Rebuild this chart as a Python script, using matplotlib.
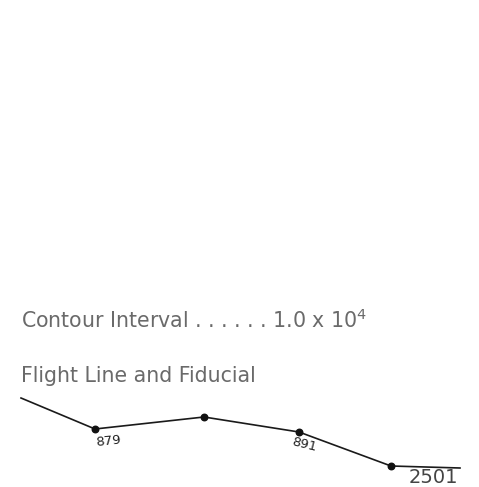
import matplotlib.pyplot as plt

# flight line vertices (picture pixels, y down)
line_x = [21, 95, 204, 299, 391, 460]
line_y = [398, 429, 417, 432, 466, 468]
# fiducial dots
fid_x = [95, 204, 299, 391]
fid_y = [429, 417, 432, 466]
fid_labels = ["879", "", "891", ""]
fid_rot = [6, 0, -14, 0]

contour_text = "Contour Interval . . . . . . 1.0 x 10$^{4}$"
flight_text = "Flight Line and Fiducial"
line_number = "2501"

plt.rcParams["mathtext.fontset"] = "dejavusans"

fig = plt.figure(figsize=(4.79, 4.87), dpi=100)
ax = fig.add_axes([0, 0, 1, 1])
ax.set_xlim(0, 479)
ax.set_ylim(487, 0)
ax.axis("off")

grey = "#6a6a6a"
ax.text(21, 320, contour_text, fontsize=14.8, color=grey, family="DejaVu Sans",
        va="center", ha="left")
ax.text(21, 376, flight_text, fontsize=14.8, color=grey, family="DejaVu Sans",
        va="center", ha="left")

ax.plot(line_x, line_y, color="#1a1a1a", lw=1.2)
ax.scatter(fid_x, fid_y, s=22, color="#111111", zorder=3)

offsets = [(13, 12), (0, 0), (5, 13), (0, 0)]
for x, y, lab, r, (dx, dy) in zip(fid_x, fid_y, fid_labels, fid_rot, offsets):
    if lab:
        ax.text(x + dx, y + dy, lab, fontsize=9.5, color="#222222",
                rotation=r, ha="center", va="center", family="DejaVu Sans")

ax.text(458, 483, line_number, fontsize=14, color="#444444",
        family="DejaVu Sans", ha="right", va="baseline")

fig.savefig("out.png", dpi=100)
